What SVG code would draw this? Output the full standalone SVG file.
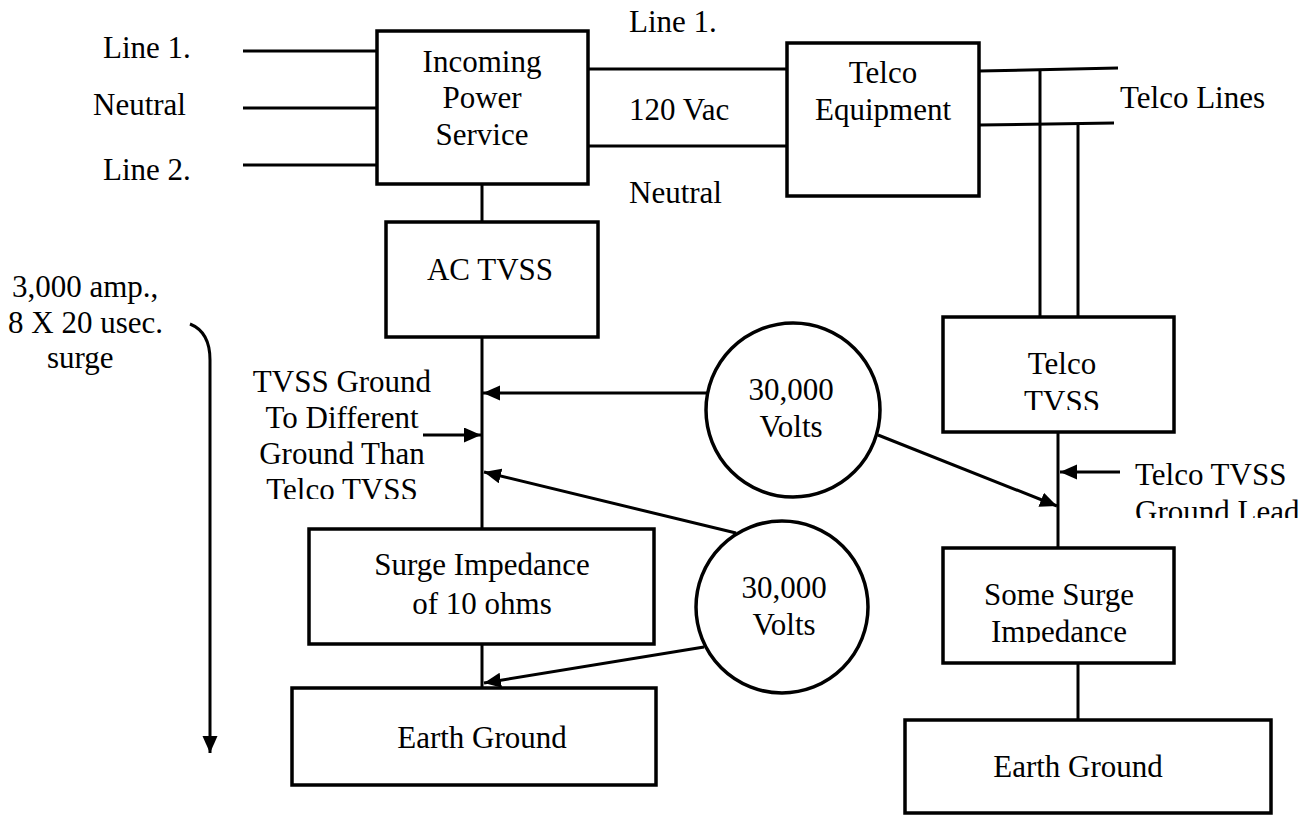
<svg xmlns="http://www.w3.org/2000/svg" width="1310" height="816" viewBox="0 0 1310 816">
<style>
text{font-family:"Liberation Serif","Times New Roman",serif;font-size:31px;fill:#000}
.c{text-anchor:middle}
.box{fill:#fff;stroke:#000;stroke-width:3.5}
.ln{fill:none;stroke:#000;stroke-width:3}
.ar{fill:none;stroke:#000;stroke-width:3;marker-end:url(#ah)}
</style>
<defs>
<marker id="ah" markerUnits="userSpaceOnUse" markerWidth="18" markerHeight="16" refX="17" refY="7.5" orient="auto">
<path d="M0,0 L17,7.5 L0,15 z" fill="#000"/>
</marker>
<clipPath id="clipTG"><rect x="230" y="360" width="240" height="139"/></clipPath>
<clipPath id="clipTT"><rect x="945" y="320" width="226" height="90"/></clipPath>
<clipPath id="clipGL"><rect x="1125" y="450" width="185" height="68"/></clipPath>
<clipPath id="clipSI"><rect x="945" y="551" width="226" height="92"/></clipPath>
</defs>
<g id="connectors">
<line class="ln" x1="243" y1="51" x2="377" y2="51"/>
<line class="ln" x1="243" y1="108" x2="377" y2="108"/>
<line class="ln" x1="243" y1="165" x2="377" y2="165"/>
<line class="ln" x1="588" y1="69" x2="787" y2="69"/>
<line class="ln" x1="588" y1="146" x2="787" y2="146"/>
<line class="ln" x1="979" y1="71" x2="1118" y2="68"/>
<line class="ln" x1="979" y1="125" x2="1114" y2="123"/>
<line class="ln" x1="1040" y1="70" x2="1040" y2="317"/>
<line class="ln" x1="1078" y1="124" x2="1078" y2="317"/>
<line class="ln" x1="482" y1="184" x2="482" y2="222"/>
<line class="ln" x1="482" y1="337" x2="482" y2="529"/>
<line class="ln" x1="482" y1="644" x2="482" y2="688"/>
<line class="ln" x1="1058" y1="432" x2="1058" y2="548"/>
<line class="ln" x1="1078" y1="663" x2="1078" y2="720"/>
<line class="ar" x1="707" y1="393" x2="483" y2="393"/>
<line class="ar" x1="423" y1="435" x2="481" y2="435"/>
<line class="ar" x1="736" y1="533" x2="484" y2="472"/>
<line class="ar" x1="878" y1="435" x2="1057" y2="506"/>
<line class="ar" x1="1120" y1="472" x2="1060" y2="472"/>
<line class="ar" x1="704" y1="647" x2="484" y2="683"/>
<path class="ar" d="M190,324 Q210,332 210,360 L210,753"/>
</g>
<g id="labels">
<text x="103" y="58">Line 1.</text>
<text x="93" y="115">Neutral</text>
<text x="103" y="180">Line 2.</text>
<text x="629" y="32">Line 1.</text>
<text x="629" y="120">120 Vac</text>
<text x="629" y="203">Neutral</text>
<text x="1120" y="108">Telco Lines</text>
<text x="12" y="297">3,000 amp.,</text>
<text x="8" y="333">8 X 20 usec.</text>
<text x="47" y="368">surge</text>
<g clip-path="url(#clipTG)">
<text class="c" x="342" y="392">TVSS Ground</text>
<text class="c" x="342" y="428">To Different</text>
<text class="c" x="342" y="464">Ground Than</text>
<text class="c" x="342" y="500">Telco TVSS</text>
</g>
<g clip-path="url(#clipGL)">
<text x="1135" y="485">Telco TVSS</text>
<text x="1135" y="522">Ground Lead</text>
</g>
</g>
<g id="incoming">
<rect class="box" x="377" y="31" width="211" height="153"/>
<text class="c" x="482" y="72">Incoming</text>
<text class="c" x="482" y="108">Power</text>
<text class="c" x="482" y="145">Service</text>
</g>
<g id="telco-equipment">
<rect class="box" x="787" y="43" width="192" height="153"/>
<text class="c" x="883" y="83">Telco</text>
<text class="c" x="883" y="120">Equipment</text>
</g>
<g id="ac-tvss">
<rect class="box" x="386" y="222" width="212" height="115"/>
<text class="c" x="490" y="280">AC TVSS</text>
</g>
<g id="surge-impedance">
<rect class="box" x="309" y="529" width="345" height="115"/>
<text class="c" x="482" y="575">Surge Impedance</text>
<text class="c" x="482" y="614">of 10 ohms</text>
</g>
<g id="earth-ground-1">
<rect class="box" x="292" y="688" width="364" height="97"/>
<text class="c" x="482" y="748">Earth Ground</text>
</g>
<g id="volts-1">
<circle cx="793" cy="410" r="87" fill="#fff" stroke="#000" stroke-width="3.5"/>
<text class="c" x="791" y="400">30,000</text>
<text class="c" x="791" y="437">Volts</text>
</g>
<g id="volts-2">
<circle cx="782" cy="607" r="86" fill="#fff" stroke="#000" stroke-width="3.5"/>
<text class="c" x="784" y="598">30,000</text>
<text class="c" x="784" y="635">Volts</text>
</g>
<g id="telco-tvss">
<rect class="box" x="943" y="317" width="231" height="115"/>
<g clip-path="url(#clipTT)">
<text class="c" x="1062" y="374">Telco</text>
<text class="c" x="1062" y="412">TVSS</text>
</g>
</g>
<g id="some-surge">
<rect class="box" x="943" y="548" width="231" height="115"/>
<g clip-path="url(#clipSI)">
<text class="c" x="1059" y="605">Some Surge</text>
<text class="c" x="1059" y="642">Impedance</text>
</g>
</g>
<g id="earth-ground-2">
<rect class="box" x="905" y="720" width="366" height="93"/>
<text class="c" x="1078" y="777">Earth Ground</text>
</g>
</svg>
